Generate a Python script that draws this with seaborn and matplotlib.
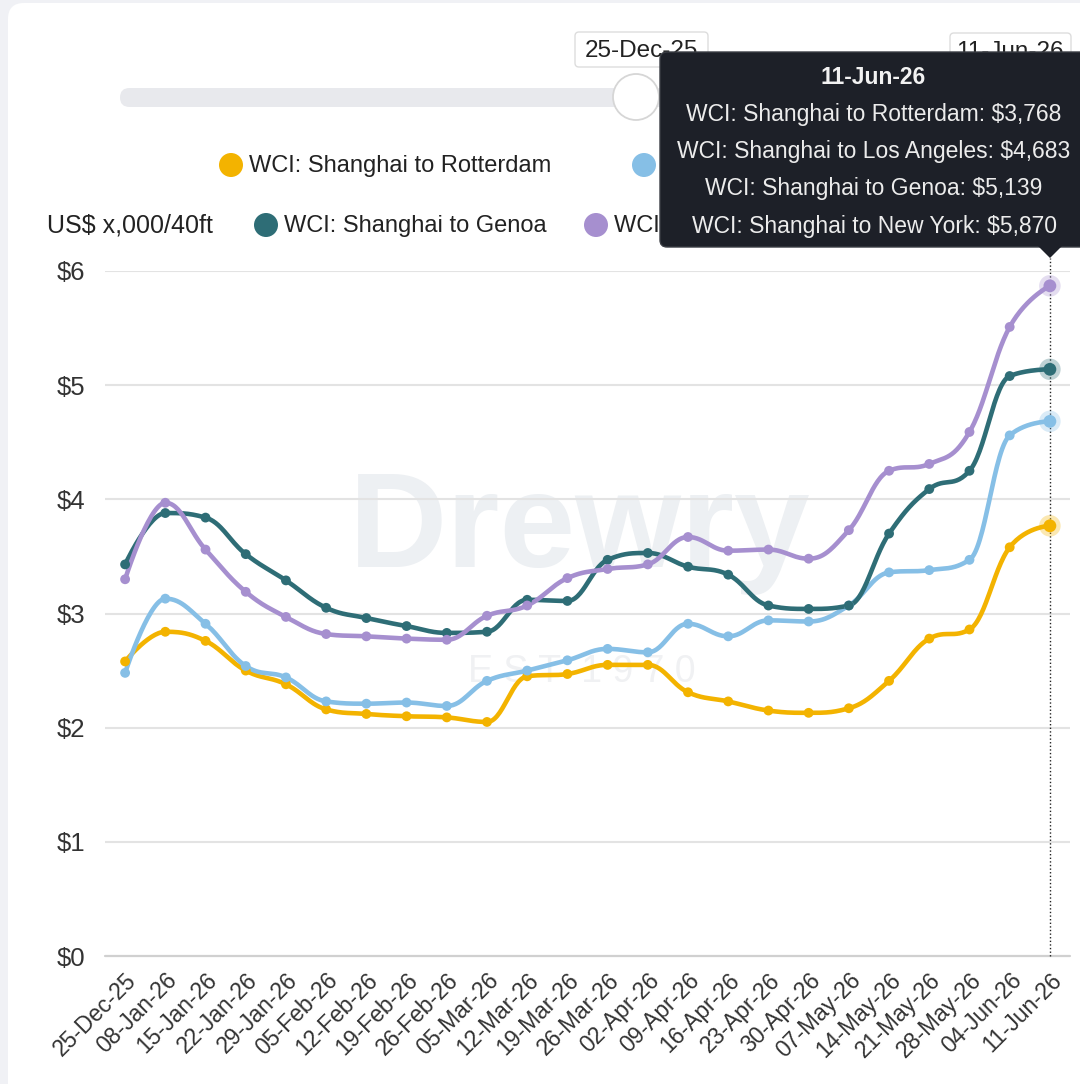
import numpy as np
import pandas as pd
import matplotlib
matplotlib.use("Agg")
import matplotlib.pyplot as plt
import seaborn as sns
from matplotlib.patches import FancyBboxPatch, Circle, Polygon, Rectangle

# ---------------- data ----------------
dates = ["25-Dec-25", "08-Jan-26", "15-Jan-26", "22-Jan-26", "29-Jan-26", "05-Feb-26",
         "12-Feb-26", "19-Feb-26", "26-Feb-26", "05-Mar-26", "12-Mar-26", "19-Mar-26",
         "26-Mar-26", "02-Apr-26", "09-Apr-26", "16-Apr-26", "23-Apr-26", "30-Apr-26",
         "07-May-26", "14-May-26", "21-May-26", "28-May-26", "04-Jun-26", "11-Jun-26"]
rotterdam = [2.58, 2.84, 2.76, 2.50, 2.38, 2.16, 2.12, 2.10, 2.09, 2.05, 2.45, 2.47,
             2.55, 2.55, 2.31, 2.23, 2.15, 2.13, 2.17, 2.41, 2.78, 2.86, 3.58, 3.768]
los_angeles = [2.48, 3.13, 2.91, 2.54, 2.44, 2.23, 2.21, 2.22, 2.19, 2.41, 2.50, 2.59,
               2.69, 2.66, 2.91, 2.80, 2.94, 2.93, 3.07, 3.36, 3.38, 3.47, 4.56, 4.683]
genoa = [3.43, 3.88, 3.84, 3.52, 3.29, 3.05, 2.96, 2.89, 2.83, 2.84, 3.12, 3.11,
         3.47, 3.53, 3.41, 3.34, 3.07, 3.04, 3.07, 3.70, 4.09, 4.25, 5.08, 5.139]
new_york = [3.30, 3.97, 3.56, 3.19, 2.97, 2.82, 2.80, 2.78, 2.77, 2.98, 3.07, 3.31,
            3.39, 3.43, 3.67, 3.55, 3.56, 3.48, 3.73, 4.25, 4.31, 4.59, 5.51, 5.870]
route_names = ["WCI: Shanghai to Rotterdam", "WCI: Shanghai to Los Angeles",
               "WCI: Shanghai to Genoa", "WCI: Shanghai to New York"]
y_ticks = [0, 1, 2, 3, 4, 5, 6]
y_label = "US$ x,000/40ft"
range_start = "25-Dec-25"
hover_title = "11-Jun-26"

colors = ["#f3b300", "#86bfe6", "#2e6d76", "#a68fcf"]
series = [rotterdam, los_angeles, genoa, new_york]


def hc_spline(xs, ys, n=30):
    """Highcharts-style spline through the points (cubic Bezier segments)."""
    xs = np.asarray(xs, float)
    ys = np.asarray(ys, float)
    N = len(xs)
    sm, den = 1.5, 2.5
    lc, rc = [None] * N, [None] * N
    for i in range(N):
        px, py = xs[i], ys[i]
        if 0 < i < N - 1:
            lx, ly = xs[i - 1], ys[i - 1]
            nx, ny = xs[i + 1], ys[i + 1]
            lcx = (sm * px + lx) / den
            lcy = (sm * py + ly) / den
            rcx = (sm * px + nx) / den
            rcy = (sm * py + ny) / den
            corr = 0.0
            if rcx != lcx:
                corr = ((rcy - lcy) * (rcx - px)) / (rcx - lcx) + py - rcy
            lcy += corr
            rcy += corr
            if lcy > ly and lcy > py:
                lcy = max(ly, py); rcy = 2 * py - lcy
            elif lcy < ly and lcy < py:
                lcy = min(ly, py); rcy = 2 * py - lcy
            if rcy > ny and rcy > py:
                rcy = max(ny, py); lcy = 2 * py - rcy
            elif rcy < ny and rcy < py:
                rcy = min(ny, py); lcy = 2 * py - rcy
            lc[i] = (lcx, lcy)
            rc[i] = (rcx, rcy)
        else:
            lc[i] = (px, py)
            rc[i] = (px, py)
    ox, oy = [xs[0]], [ys[0]]
    t = np.linspace(0, 1, n + 1)[1:]
    for i in range(1, N):
        p0 = np.array([xs[i - 1], ys[i - 1]])
        p1 = np.array(rc[i - 1])
        p2 = np.array(lc[i])
        p3 = np.array([xs[i], ys[i]])
        b = ((1 - t) ** 3)[:, None] * p0 + (3 * (1 - t) ** 2 * t)[:, None] * p1 \
            + (3 * (1 - t) * t ** 2)[:, None] * p2 + (t ** 3)[:, None] * p3
        ox.extend(b[:, 0]); oy.extend(b[:, 1])
    return np.array(ox), np.array(oy)


idx = np.arange(len(dates))
curve_rows, point_rows = [], []
for name, vals in zip(route_names, series):
    cx, cy = hc_spline(idx, vals)
    curve_rows.append(pd.DataFrame({"x": cx, "y": cy, "route": name}))
    point_rows.append(pd.DataFrame({"x": idx, "y": vals, "route": name}))
curves = pd.concat(curve_rows, ignore_index=True)
points = pd.concat(point_rows, ignore_index=True)
last_points = points[points["x"] == idx[-1]]
palette = dict(zip(route_names, colors))

# ---------------- figure ----------------
sns.set_style("white")
plt.rcParams["font.family"] = ["Liberation Sans", "DejaVu Sans"]

W, H = 1080, 1084
fig = plt.figure(figsize=(W / 100, H / 100), dpi=100)


def fx(x):
    return x / W


def fy(y):
    return 1 - y / H


# background card
bg = fig.add_axes([0, 0, 1, 1], zorder=-5)
bg.set_xlim(0, W); bg.set_ylim(H, 0); bg.axis("off")
bg.add_patch(Rectangle((0, 0), W, H, color="#f0f1f5"))
bg.add_patch(FancyBboxPatch((8, 3), W + 40, H + 40, boxstyle="round,pad=0,rounding_size=16",
                            facecolor="white", edgecolor="none"))
# watermark
bg.text(580, 532, "Drewry", ha="center", va="center", fontsize=98, fontweight="bold",
        color="#edf0f3", family=["Liberation Sans Narrow", "Liberation Sans"])
bg.text(582, 672, "E S T  1 9 7 0", ha="center", va="center", fontsize=27,
        color="#f0f1f3")

# main axes
left, right = 105, 1070
top, bottom = 271, 956
ax = fig.add_axes([fx(left), fy(bottom), fx(right - left), (bottom - top) / H], zorder=1)
ax.set_facecolor("none")

sns.lineplot(data=curves, x="x", y="y", hue="route", palette=palette, sort=False,
             estimator=None, legend=False, linewidth=3.3, ax=ax, zorder=3)
sns.scatterplot(data=points, x="x", y="y", hue="route", palette=palette, s=50,
                edgecolor="none", legend=False, ax=ax, zorder=4, clip_on=False)
sns.scatterplot(data=last_points, x="x", y="y", hue="route", palette=palette, s=240,
                alpha=0.3, edgecolor="none", legend=False, ax=ax, zorder=4, clip_on=False)
sns.scatterplot(data=last_points, x="x", y="y", hue="route", palette=palette, s=85,
                edgecolor="none", legend=False, ax=ax, zorder=5, clip_on=False)

ax.set_xlim(-0.5, len(dates) - 0.5)
ax.set_ylim(y_ticks[0], y_ticks[-1])
ax.set_yticks(y_ticks)
ax.set_yticklabels([f"${v}" for v in y_ticks], fontsize=18.5, color="#333333")
ax.set_xticks(idx)
ax.set_xticklabels(dates, rotation=45, ha="right", rotation_mode="anchor",
                   fontsize=16.5, color="#333333")
ax.tick_params(axis="y", length=0, pad=14)
ax.tick_params(axis="x", length=0, pad=9)
for v in y_ticks[1:]:
    ax.axhline(v, color="#e3e3e3", linewidth=1.5, zorder=1)
ax.axhline(0, color="#d0d0d0", linewidth=1.6, zorder=1, clip_on=False)
for s in ax.spines.values():
    s.set_visible(False)
ax.set_xlabel(""); ax.set_ylabel("")
# crosshair at hovered date
ax.plot([idx[-1], idx[-1]], [0, 6.11], color="#222222", linestyle=(0, (1, 1.6)),
        linewidth=1.0, zorder=2, clip_on=False)

# overlay (slider, legend, tooltip)
ov = fig.add_axes([0, 0, 1, 1], zorder=10)
ov.set_xlim(0, W); ov.set_ylim(H, 0); ov.axis("off"); ov.set_facecolor("none")

# slider
ov.add_patch(FancyBboxPatch((120, 88), 940, 19, boxstyle="round,pad=0,rounding_size=9.5",
                            facecolor="#e8e9ed", edgecolor="none", zorder=1))
ov.add_patch(Circle((636, 97), 23, facecolor="white", edgecolor="#d6d6d6", lw=1.3, zorder=2))
ov.add_patch(FancyBboxPatch((575, 32), 133, 35, boxstyle="round,pad=0,rounding_size=4",
                            facecolor="white", edgecolor="#dddddd", lw=1, zorder=2))
ov.text(641, 51, range_start, ha="center", va="center", fontsize=17.5, color="#222222", zorder=3)
ov.add_patch(FancyBboxPatch((950, 33), 121, 35, boxstyle="round,pad=0,rounding_size=4",
                            facecolor="white", edgecolor="#dddddd", lw=1, zorder=2))
ov.text(1010, 52, hover_title, ha="center", va="center", fontsize=17.5, color="#222222", zorder=3)

# legend
leg_items = [(231, 165, 0), (644, 165, 1), (266, 225, 2), (596, 225, 3)]
for x0, y0, k in leg_items:
    ov.add_patch(Circle((x0, y0), 12, facecolor=colors[k], edgecolor="none", zorder=2))
    ov.text(x0 + 18, y0 + 1, route_names[k], ha="left", va="center", fontsize=17,
            color="#222222", zorder=3)
ov.text(47, 226, y_label, ha="left", va="center", fontsize=18, color="#222222", zorder=3)

# tooltip
ov.add_patch(FancyBboxPatch((660, 52), 440, 195, boxstyle="round,pad=0,rounding_size=7",
                            facecolor="#1d2028", edgecolor="#3a3d44", lw=1, zorder=5))
ov.add_patch(Polygon([(1038, 246), (1062, 246), (1050, 258)], closed=True,
                     facecolor="#1d2028", edgecolor="none", zorder=5))
ov.text(873, 77, hover_title, ha="center", va="center", fontsize=16.5, fontweight="bold",
        color="#f2f2f2", zorder=6)
for k, (name, vals) in enumerate(zip(route_names, series)):
    ov.text(874, 114 + k * 37.5, f"{name}: ${vals[-1] * 1000:,.0f}", ha="center", va="center",
            fontsize=16.5, color="#ececec", zorder=6)

fig.savefig("out.png", dpi=100)
